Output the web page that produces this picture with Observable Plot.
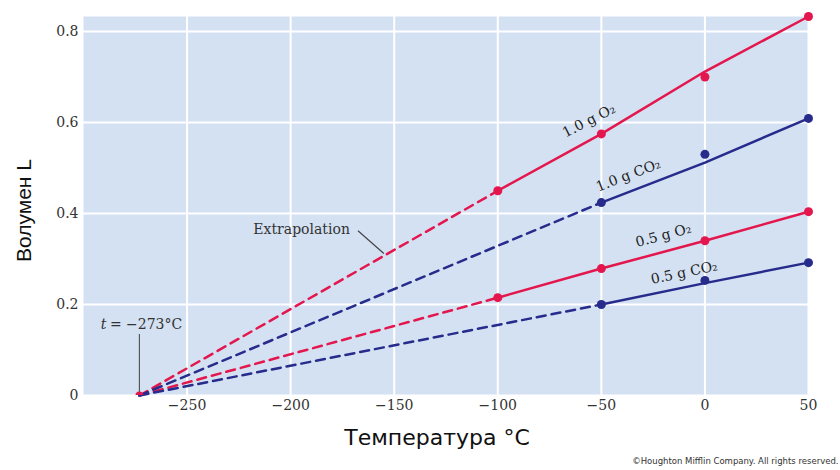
<!DOCTYPE html>
<html><head><meta charset="utf-8">
<script src="https://cdn.jsdelivr.net/npm/d3@7"></script>
<script src="https://cdn.jsdelivr.net/npm/@observablehq/plot@0.6"></script>
<style>body{margin:0;background:#fff;}</style>
</head><body><div id="chart"></div>
<script>
// ---- data ----
const seriesNames = ["1.0 g O₂", "1.0 g CO₂", "0.5 g O₂", "0.5 g CO₂"];
const seriesGas = ["O2", "CO2", "O2", "CO2"];
const absoluteZero = -273;
// measured points
const dotTemps = [[-100, -50, 0, 50], [-50, 0, 50], [-100, -50, 0, 50], [-50, 0, 50]];
const dotVolumes = [[0.45, 0.575, 0.70, 0.833], [0.424, 0.53, 0.609], [0.215, 0.279, 0.34, 0.404], [0.20, 0.253, 0.292]];
// fitted (drawn) line through the measured range
const fitVolumes = [[0.45, 0.575, 0.712, 0.833], [0.424, 0.512, 0.609], [0.215, 0.279, 0.34, 0.404], [0.20, 0.247, 0.292]];
// series label anchors (data units) and angles
const labelTemps = [-56, -37, -20, -10];
const labelVolumes = [0.604, 0.484, 0.352, 0.27];
const labelAngles = [-27, -21, -15, -12];
const xTicks = [-250, -200, -150, -100, -50, 0, 50];
const yTicks = [0, 0.2, 0.4, 0.6, 0.8];
const xTitle = "Температура °C";
const yTitle = "Волумен L";
const credit = "©Houghton Mifflin Company. All rights reserved.";
const zeroLabelVar = "t";
const zeroLabelRest = " = −273°C";
const zeroLabelVolume = 0.156;
const zeroRuleTop = 0.134;
const extrapText = "Extrapolation";
const extrapAnchor = {t: -218, v: 0.365};
const extrapLeader = [{t1: -167.5, v1: 0.362, t2: -155, v2: 0.312}];

// ---- build tables ----
const colors = {O2: "#e3174d", CO2: "#262b8c"};
const dots = [], solid = [], dashed = [], labels = [];
seriesNames.forEach((s, i) => {
  dotTemps[i].forEach((t, j) => {
    dots.push({s, gas: seriesGas[i], t, v: dotVolumes[i][j]});
    solid.push({s, gas: seriesGas[i], t, v: fitVolumes[i][j]});
  });
  dashed.push({s, gas: seriesGas[i], t: absoluteZero, v: 0});
  dashed.push({s, gas: seriesGas[i], t: dotTemps[i][0], v: fitVolumes[i][0]});
  labels.push({s, t: labelTemps[i], v: labelVolumes[i], a: labelAngles[i]});
});

const serif = "DejaVu Serif";
const marks = [
  Plot.frame({fill: "#d4e1f2", stroke: null}),
  Plot.ruleX(xTicks, {stroke: "white", strokeWidth: 2}),
  Plot.ruleY(yTicks, {stroke: "white", strokeWidth: 2}),
  Plot.ruleX([absoluteZero], {y1: 0, y2: zeroRuleTop, stroke: "#555", strokeWidth: 1.2}),
  Plot.text([zeroLabelVar], {x: absoluteZero, y: zeroLabelVolume, dx: -33, textAnchor: "end", fontFamily: serif, fontStyle: "italic", fontSize: 14, fill: "#333"}),
  Plot.text([zeroLabelRest], {x: absoluteZero, y: zeroLabelVolume, dx: -34, textAnchor: "start", fontFamily: serif, fontSize: 14, fill: "#333"}),
  Plot.link(extrapLeader, {x1: "t1", y1: "v1", x2: "t2", y2: "v2", stroke: "#444", strokeWidth: 1.2}),
  Plot.text([extrapText], {x: extrapAnchor.t, y: extrapAnchor.v, textAnchor: "start", fontFamily: serif, fontSize: 14, fill: "#333"})
];
for (const gas of ["O2", "CO2"]) {
  marks.push(
    Plot.line(dashed.filter(d => d.gas === gas), {x: "t", y: "v", z: "s", stroke: colors[gas], strokeWidth: 2.5, strokeDasharray: "9,6"}),
    Plot.line(solid.filter(d => d.gas === gas), {x: "t", y: "v", z: "s", stroke: colors[gas], strokeWidth: 2.5}),
    Plot.dot(dots.filter(d => d.gas === gas), {x: "t", y: "v", r: 4.5, fill: colors[gas], stroke: null})
  );
}
marks.push(
  Plot.dot([{t: absoluteZero, v: 0}], {x: "t", y: "v", r: 4, fill: colors.O2, clip: true}),
  Plot.text(labels, {x: "t", y: "v", text: "s", rotate: "a", fontFamily: serif, fontSize: 14, fill: "#222"}),
  Plot.text([xTitle], {frameAnchor: "bottom", dx: -9, dy: 49, fontFamily: "DejaVu Sans", fontSize: 22, fill: "#111"}),
  Plot.text([yTitle], {frameAnchor: "left", dx: -59, dy: 56, rotate: -90, fontFamily: "Liberation Sans", fontSize: 21, fill: "#111"}),
  Plot.text([credit], {frameAnchor: "bottom-right", dx: 30, dy: 68, textAnchor: "end", fontFamily: "DejaVu Sans", fontSize: 8.5, fill: "#333"})
);

const chart = Plot.plot({
  width: 840, height: 470,
  marginLeft: 83, marginRight: 32, marginTop: 16, marginBottom: 75,
  style: {fontFamily: serif, fontSize: "14px", color: "#333", background: "white"},
  x: {domain: [-300, 50], ticks: xTicks, tickSize: 0, tickPadding: 5, label: null},
  y: {domain: [0, 0.833], ticks: yTicks, tickSize: 0, tickPadding: 5, label: null,
      tickFormat: d => d === 0 ? "0" : d.toFixed(1)},
  marks
});
document.getElementById("chart").appendChild(chart);
</script>
</body></html>
